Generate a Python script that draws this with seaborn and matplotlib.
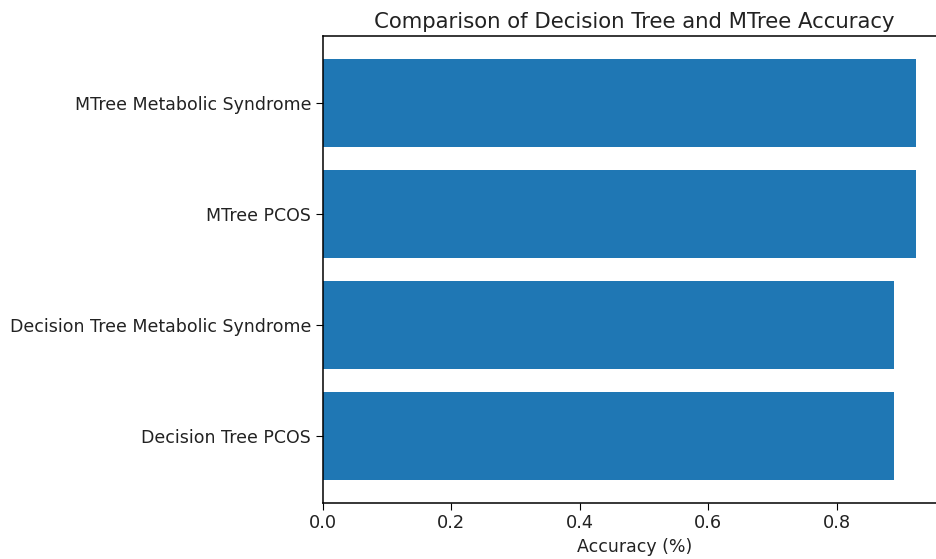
import matplotlib
matplotlib.use("Agg")
import matplotlib.pyplot as plt
import seaborn as sns
import pandas as pd

labels = ["Decision Tree PCOS", "Decision Tree Metabolic Syndrome", "MTree PCOS", "MTree Metabolic Syndrome"]
accuracy = [0.889, 0.889, 0.923, 0.923]

df = pd.DataFrame({"label": labels, "accuracy": accuracy})

plt.rcParams["font.family"] = ["DejaVu Sans"]
fig = plt.figure(figsize=(9.36, 5.59), dpi=100)
ax = fig.add_axes([0.345, 0.101, 0.665, 0.834])
order = labels[::-1]
sns.barplot(data=df, x="accuracy", y="label", order=order, orient="h",
            color="#1f77b4", saturation=1, width=0.8, ax=ax)
ax.set_ylim(3.6, -0.6)
ax.set_xlim(0, 0.969)
ax.set_ylabel("")
ax.set_xlabel("Accuracy (%)", fontsize=12.5, color="#222222")
ax.set_title("Comparison of Decision Tree and MTree Accuracy", fontsize=15.3, color="#222222")
ax.tick_params(axis="y", labelsize=12.5, labelcolor="#222222", length=5)
ax.tick_params(axis="x", labelsize=12.8, labelcolor="#222222", length=5)
for s in ax.spines.values():
    s.set_linewidth(1.1)
fig.savefig("out.png", dpi=100)
